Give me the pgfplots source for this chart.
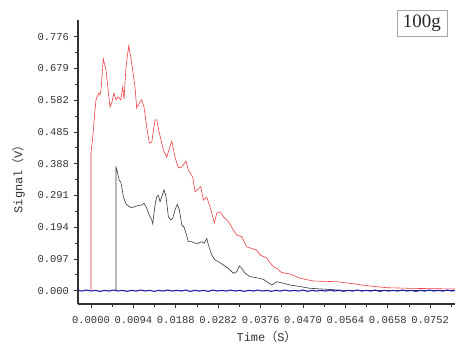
\documentclass[border=0pt]{standalone}
\usepackage{pgfplots}
\pgfplotsset{compat=1.18}
\usepackage{fontspec}
\newfontfamily\monofont{Liberation Mono}
\newfontfamily\serffont{Liberation Serif}
\newfontfamily\cjk{Noto Sans CJK SC}
\definecolor{cred}{RGB}{238,60,64}
\definecolor{cblack}{RGB}{55,55,55}
\definecolor{cblue}{RGB}{30,30,165}
\definecolor{caxis}{RGB}{50,50,50}
\begin{document}
\begin{tikzpicture}
\useasboundingbox (0,0) rectangle (455bp,344bp);
\begin{axis}[
  at={(78bp,40bp)}, anchor=south west,
  scale only axis, width=377bp, height=284bp,
  xmin=-0.00288, xmax=0.0807, ymin=-0.0406, ymax=0.827,
  scaled x ticks=false, scaled y ticks=false,
  axis x line=bottom, axis y line=left,
  axis line style={-, caxis, line width=1.1pt},
  tick align=outside,
  major tick length=4.5bp, minor tick length=2.6bp,
  every tick/.style={caxis, line width=0.8pt},
  xtick={0,0.0094,0.0188,0.0282,0.0376,0.0470,0.0564,0.0658,0.0752},
  xticklabels={0.0000,0.0094,0.0188,0.0282,0.0376,0.0470,0.0564,0.0658,0.0752},
  minor xtick={0.0047,0.0141,0.0235,0.0329,0.0423,0.0517,0.0611,0.0705,0.0799},
  ytick={0,0.097,0.194,0.291,0.388,0.485,0.582,0.679,0.776},
  yticklabels={0.000,0.097,0.194,0.291,0.388,0.485,0.582,0.679,0.776},
  minor ytick={0.0485,0.1455,0.2425,0.3395,0.4365,0.5335,0.6305,0.7275},
  /pgf/number format/assume math mode=true,
  tick label style={font=\monofont\fontsize{10.5}{12}\selectfont, text=caxis},
  xticklabel style={yshift=-4bp},
  yticklabel style={xshift=-1bp},
  xlabel={Time{\cjk （}S{\cjk ）}},
  ylabel={Signal{\cjk （}V{\cjk ）}},
  label style={font=\monofont\fontsize{12}{14}\selectfont, text=caxis},
  xlabel style={yshift=-1bp},
  ylabel style={at={(axis description cs:-0.158,0.45)}, anchor=center},
  clip=false,
]
\addplot[cred, line width=0.6pt] coordinates {
(0,0) (0,0.421) (0.00044,0.476) (0.00089,0.553) (0.00111,0.583) (0.00133,0.592)
(0.00177,0.604) (0.00200,0.598) (0.00222,0.613) (0.00273,0.708) (0.00333,0.674)
(0.00421,0.561) (0.00459,0.573) (0.00510,0.604) (0.00555,0.583) (0.00606,0.592)
(0.00659,0.583) (0.00703,0.622) (0.00732,0.586) (0.00776,0.683) (0.00836,0.748)
(0.00881,0.714) (0.00925,0.674) (0.00976,0.622) (0.01014,0.558) (0.01087,0.577)
(0.01125,0.583) (0.01176,0.561) (0.01236,0.500) (0.01293,0.451) (0.01347,0.454)
(0.01420,0.522) (0.01457,0.522) (0.01515,0.482) (0.01604,0.430) (0.01679,0.408)
(0.01790,0.457) (0.01863,0.408) (0.01937,0.375) (0.02012,0.378) (0.02107,0.396)
(0.02158,0.369) (0.02256,0.347) (0.02307,0.302) (0.02380,0.311) (0.02433,0.318)
(0.02491,0.277) (0.02567,0.286) (0.02640,0.256) (0.02735,0.207) (0.02788,0.237)
(0.02862,0.241) (0.02935,0.226) (0.03046,0.211) (0.03157,0.185) (0.03232,0.170)
(0.03343,0.165) (0.03454,0.134) (0.03676,0.124) (0.03749,0.109) (0.03898,0.0999)
(0.03971,0.0846) (0.04044,0.0733) (0.04119,0.0684) (0.04193,0.0581) (0.04304,0.0532)
(0.04414,0.0510) (0.04636,0.0379) (0.04931,0.0296) (0.05450,0.0275) (0.05745,0.0226)
(0.06116,0.0153) (0.06559,0.0092) (0.07076,0.0073) (0.08075,0.0052)
};
\addplot[cblack, line width=0.6pt] coordinates {
(0.00555,0) (0.00555,0.377) (0.00583,0.364) (0.00628,0.336) (0.00659,0.333)
(0.00681,0.318) (0.00717,0.287) (0.00776,0.265) (0.00865,0.255) (0.00938,0.255)
(0.01014,0.259) (0.01125,0.262) (0.01176,0.267) (0.01236,0.252) (0.01293,0.231)
(0.01347,0.216) (0.01369,0.204) (0.01420,0.262) (0.01457,0.287) (0.01493,0.292)
(0.01531,0.272) (0.01568,0.287) (0.01619,0.308) (0.01664,0.287) (0.01715,0.226)
(0.01768,0.216) (0.01812,0.221) (0.01863,0.247) (0.01914,0.264) (0.01959,0.247)
(0.02012,0.201) (0.02063,0.194) (0.02107,0.175) (0.02158,0.150) (0.02234,0.150)
(0.02307,0.145) (0.02380,0.145) (0.02456,0.150) (0.02507,0.145) (0.02567,0.160)
(0.02602,0.140) (0.02678,0.109) (0.02751,0.0938) (0.02824,0.0886) (0.02935,0.0785)
(0.03046,0.0684) (0.03157,0.0532) (0.03232,0.0581) (0.03290,0.0755) (0.03343,0.0684)
(0.03416,0.0532) (0.03527,0.0428) (0.03676,0.0397) (0.03822,0.0348) (0.03898,0.0275)
(0.04009,0.0174) (0.04119,0.0275) (0.04266,0.0226) (0.04414,0.0174) (0.04563,0.0144)
(0.04858,0.0073) (0.05228,0.0043) (0.0563,0.001) (0.0650,0.0005) (0.0807,0.0005)
};
\addplot[cblue, line width=1.1pt] coordinates {
(-0.00288,0.001) (-0.0020,-0.001) (-0.0010,0.002) (0.0000,-0.001) (0.0010,0.001)
(0.0020,-0.002) (0.0030,0.001) (0.0040,-0.001) (0.0050,0.002) (0.0060,-0.001)
(0.0070,0.001) (0.0080,-0.002) (0.0090,0.001) (0.0100,-0.001) (0.0110,0.002)
(0.0120,-0.001) (0.0130,0.001) (0.0140,-0.002) (0.0150,0.001) (0.0160,-0.001)
(0.0170,0.002) (0.0180,-0.001) (0.0190,0.001) (0.0200,-0.001) (0.0210,0.002)
(0.0220,-0.002) (0.0230,0.001) (0.0240,-0.001) (0.0250,0.001) (0.0260,-0.002)
(0.0270,0.002) (0.0280,-0.001) (0.0290,0.001) (0.0300,-0.001) (0.0310,0.002)
(0.0320,-0.001) (0.0330,0.001) (0.0340,-0.002) (0.0350,0.001) (0.0360,-0.001)
(0.0370,0.002) (0.0380,-0.001) (0.0390,0.001) (0.0400,-0.002) (0.0410,0.001)
(0.0420,-0.001) (0.0430,0.002) (0.0440,-0.001) (0.0450,0.001) (0.0460,-0.001)
(0.0470,0.002) (0.0480,-0.002) (0.0490,0.001) (0.0500,-0.001) (0.0510,0.001)
(0.0520,-0.001) (0.0530,0.002) (0.0540,-0.001) (0.0550,0.001) (0.0560,-0.002)
(0.0570,0.001) (0.0580,-0.001) (0.0590,0.002) (0.0600,-0.001) (0.0610,0.001)
(0.0620,-0.001) (0.0630,0.002) (0.0640,-0.002) (0.0650,0.001) (0.0660,-0.001)
(0.0670,0.001) (0.0680,-0.001) (0.0690,0.002) (0.0700,-0.001) (0.0710,0.001)
(0.0720,-0.002) (0.0730,0.001) (0.0740,-0.001) (0.0750,0.002) (0.0760,-0.001)
(0.0770,0.001) (0.0780,-0.001) (0.0790,0.002) (0.0800,-0.001) (0.0807,0.001)
};
\end{axis}
\node[draw=gray!70, line width=0.5pt, minimum width=50bp, minimum height=26bp, inner sep=0pt,
  font=\serffont\fontsize{19}{21}\selectfont, text=black!85] at (421.8bp,321bp) {100g};
\end{tikzpicture}
\end{document}
